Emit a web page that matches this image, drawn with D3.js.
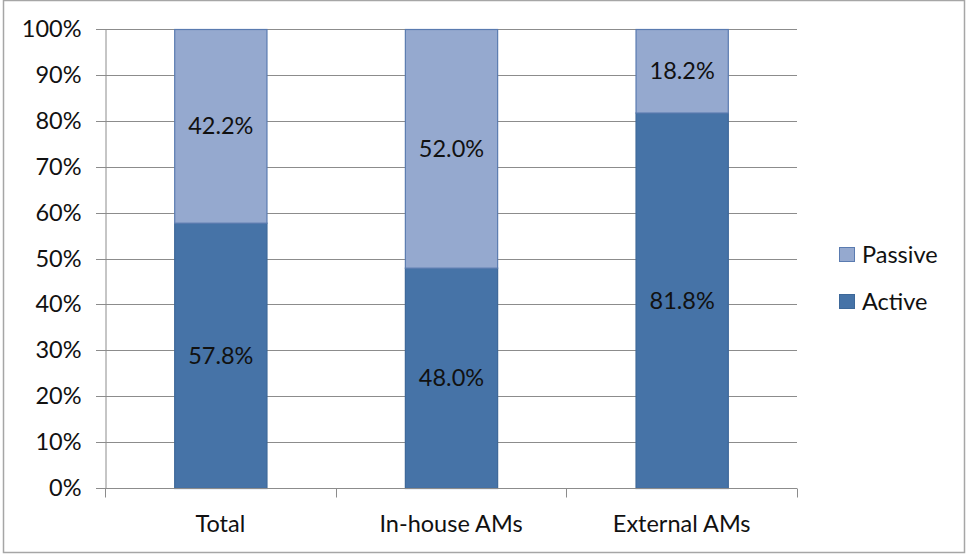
<!DOCTYPE html>
<html>
<head>
<meta charset="utf-8">
<script src="https://cdn.jsdelivr.net/npm/d3@7"></script>
<style>
	body { margin: 0; background: #fff; }
	svg text { font-family: Lato, "Open Sans", sans-serif; fill: #111; }
</style>
</head>
<body>
<svg id="chart"></svg>
<script>
// chart values
const categories = ["Total", "In-house AMs", "External AMs"];
const seriesNames = ["Active", "Passive"];
const activeValues = [57.8, 48.0, 81.8];
const passiveValues = [42.2, 52.0, 18.2];
const yTicks = [0, 10, 20, 30, 40, 50, 60, 70, 80, 90, 100];

const width = 966, height = 554;
const margin = {left: 105, right: 169, top: 29, bottom: 66};
const fontSize = 23.5;

const colors = {
	"Active": {fill: "#4673a7", stroke: "#3d6899"},
	"Passive": {fill: "#95a9cf", stroke: "#5a7bb0"}
};

let svg = d3.select("#chart")
	.attr("width", width)
	.attr("height", height);

// outer frame
svg.append("rect")
	.attr("x", 3.5).attr("y", 0.5)
	.attr("width", width - 5).attr("height", height - 2)
	.attr("fill", "#fff")
	.attr("stroke", "#a6a6a6")
	.attr("stroke-width", 1.5);

let x = d3.scaleBand()
	.domain(categories)
	.range([margin.left, width - margin.right])
	.paddingInner(0.6)
	.paddingOuter(0.3);

let y = d3.scaleLinear()
	.domain([0, 100])
	.range([height - margin.bottom, margin.top]);

// gridlines
svg.append("g")
	.selectAll("line")
	.data(yTicks)
	.join("line")
	.attr("x1", margin.left - 9)
	.attr("x2", width - margin.right)
	.attr("y1", d => Math.round(y(d)) + 0.5)
	.attr("y2", d => Math.round(y(d)) + 0.5)
	.attr("stroke", "#8c8c8c")
	.attr("stroke-width", 1);

// y axis
let yAxis = svg.append("g")
	.attr("transform", "translate(" + (margin.left + 0.5) + ",0)")
	.call(d3.axisLeft(y).tickValues(yTicks).tickSize(0).tickPadding(24).tickFormat(d => d + "%"));
yAxis.select(".domain").attr("stroke", "#8c8c8c");
yAxis.selectAll("text").attr("font-size", fontSize).attr("fill", "#111");

// stacked data
let rows = categories.map((c, i) => ({category: c, Active: activeValues[i], Passive: passiveValues[i]}));
let stacked = d3.stack().keys(seriesNames)(rows);

let groups = svg.append("g")
	.selectAll("g")
	.data(stacked)
	.join("g")
	.attr("fill", d => colors[d.key].fill)
	.attr("stroke", d => colors[d.key].stroke);

groups.selectAll("rect")
	.data(d => d)
	.join("rect")
	.attr("x", d => x(d.data.category) + 0.5)
	.attr("y", d => y(d[1]) + 0.5)
	.attr("width", x.bandwidth())
	.attr("height", d => y(d[0]) - y(d[1]))
	.attr("stroke-width", 1.2);

// value labels
svg.append("g")
	.selectAll("g")
	.data(stacked)
	.join("g")
	.selectAll("text")
	.data(d => d)
	.join("text")
	.attr("x", d => x(d.data.category) + x.bandwidth() / 2 + 0.5)
	.attr("y", d => (y(d[0]) + y(d[1])) / 2)
	.attr("dy", "0.36em")
	.attr("text-anchor", "middle")
	.attr("font-size", fontSize)
	.text(d => (d[1] - d[0]).toFixed(1) + "%");

// x axis
let xAxis = svg.append("g")
	.attr("transform", "translate(0," + (Math.round(y(0)) + 0.5) + ")")
	.call(d3.axisBottom(x).tickSize(0).tickPadding(27));
xAxis.select(".domain").remove();
xAxis.selectAll("text").attr("font-size", fontSize).attr("fill", "#111");
xAxis.append("line")
	.attr("x1", margin.left).attr("x2", width - margin.right)
	.attr("stroke", "#8c8c8c");

// category boundary ticks
let bounds = d3.range(categories.length + 1).map(i => margin.left + i * (width - margin.left - margin.right) / categories.length);
xAxis.append("g")
	.selectAll("line")
	.data(bounds)
	.join("line")
	.attr("x1", d => Math.round(d) + 0.5)
	.attr("x2", d => Math.round(d) + 0.5)
	.attr("y1", 0)
	.attr("y2", 9)
	.attr("stroke", "#8c8c8c");

// legend
let legendItems = ["Passive", "Active"];
let legend = svg.append("g")
	.selectAll("g")
	.data(legendItems)
	.join("g")
	.attr("transform", (d, i) => "translate(839," + (247 + i * 47) + ")");

legend.append("rect")
	.attr("x", 0.5).attr("y", 0.5)
	.attr("width", 15).attr("height", 14)
	.attr("fill", d => colors[d].fill)
	.attr("stroke", d => colors[d].stroke);

legend.append("text")
	.attr("x", 23)
	.attr("y", 7.5)
	.attr("dy", "0.36em")
	.attr("font-size", fontSize)
	.text(d => d);
</script>
</body>
</html>
